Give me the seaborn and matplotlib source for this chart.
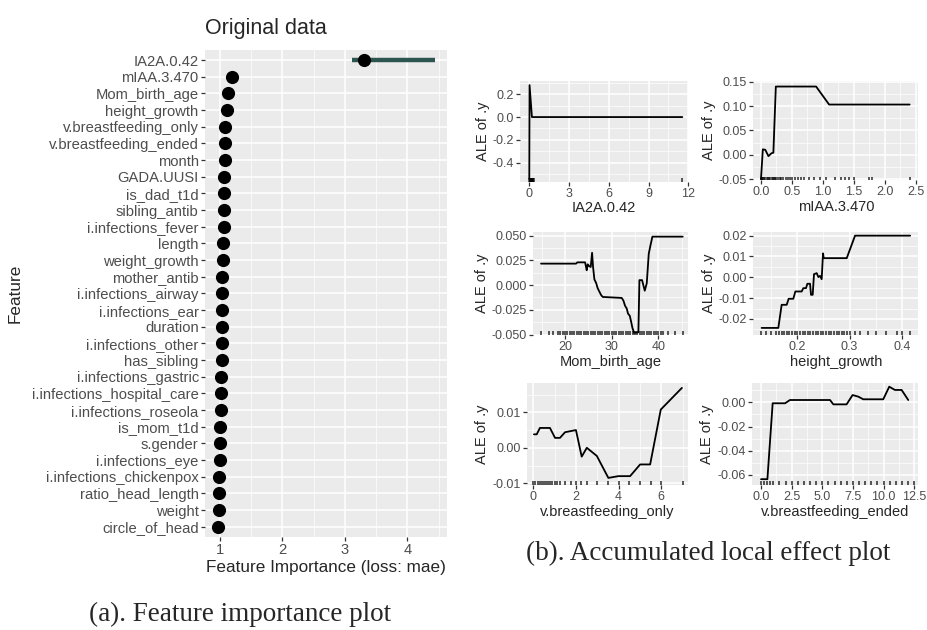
"""
Feature importance (left) and accumulated local effect panels (right).
"""

import matplotlib
matplotlib.use("Agg")
import matplotlib.pyplot as plt
import seaborn as sns
from matplotlib.ticker import (AutoMinorLocator, FormatStrFormatter,
                               MultipleLocator, NullLocator)

# ---- feature importance data (top to bottom) ----
features = [
    "IA2A.0.42", "mIAA.3.470", "Mom_birth_age", "height_growth",
    "v.breastfeeding_only", "v.breastfeeding_ended", "month", "GADA.UUSI",
    "is_dad_t1d", "sibling_antib", "i.infections_fever", "length",
    "weight_growth", "mother_antib", "i.infections_airway", "i.infections_ear",
    "duration", "i.infections_other", "has_sibling", "i.infections_gastric",
    "i.infections_hospital_care", "i.infections_roseola", "is_mom_t1d",
    "s.gender", "i.infections_eye", "i.infections_chickenpox",
    "ratio_head_length", "weight", "circle_of_head",
]
importance = [3.30, 1.20, 1.13, 1.12, 1.085, 1.08, 1.075, 1.07, 1.07, 1.065,
              1.06, 1.055, 1.05, 1.04, 1.04, 1.035, 1.03, 1.03, 1.025, 1.02,
              1.015, 1.015, 1.005, 1.005, 1.0, 0.99, 0.985, 0.98, 0.975]
imp_low = [3.11, 1.19, 1.12, 1.11, 1.08, 1.07, 1.07, 1.06, 1.06, 1.06,
           1.05, 1.05, 1.04, 1.03, 1.03, 1.03, 1.02, 1.02, 1.02, 1.01,
           1.01, 1.01, 1.0, 1.0, 0.99, 0.985, 0.98, 0.975, 0.97]
imp_high = [4.45, 1.21, 1.14, 1.13, 1.09, 1.09, 1.08, 1.08, 1.08, 1.07,
            1.07, 1.06, 1.06, 1.05, 1.05, 1.04, 1.04, 1.04, 1.03, 1.03,
            1.02, 1.02, 1.01, 1.01, 1.005, 0.995, 1.04, 0.985, 0.98]

# ---- ALE curves ----
ia2a_x = [0.0, 0.02, 0.2, 11.55]
ia2a_y = [-0.54, 0.28, 0.0, 0.0]
ia2a_rug = [0.0, 0.02, 0.04, 0.06, 0.08, 0.1, 0.12, 0.15, 0.18, 0.22, 0.26,
            0.3, 0.35, 11.55]

miaa_x = [0.0, 0.03, 0.07, 0.12, 0.17, 0.2, 0.24, 0.89, 1.10, 2.40]
miaa_y = [-0.05, 0.011, 0.010, -0.003, 0.003, 0.004, 0.14, 0.14, 0.103, 0.103]
miaa_rug = [0.0, 0.01, 0.02, 0.03, 0.05, 0.07, 0.09, 0.11, 0.13, 0.15, 0.17,
            0.19, 0.21, 0.23, 0.25, 0.27, 0.3, 0.33, 0.36, 0.4, 0.43, 0.47,
            0.5, 0.55, 0.6, 0.65, 0.7, 0.78, 0.85, 0.95, 1.05, 1.2, 1.3,
            1.35, 1.42, 1.5, 1.75, 1.8, 2.4]

mom_x = [14.86, 22.36, 22.64, 24.29, 24.5, 24.64, 24.86, 25.21, 25.5, 25.79,
         26.0, 26.29, 26.64, 27.0, 27.36, 27.71, 28.07, 32.14, 32.5, 32.86,
         33.21, 33.5, 33.86, 34.14, 34.43, 34.79, 35.71, 35.93, 36.5, 37.07,
         37.5, 37.93, 38.29, 38.71, 45.21]
mom_y = [0.0217, 0.0217, 0.023, 0.023, 0.0183, 0.015, 0.021, 0.019, 0.0183,
         0.0327, 0.0183, 0.0057, 0.0023, -0.0033, -0.0067, -0.01, -0.012,
         -0.013, -0.0157, -0.021, -0.0237, -0.029, -0.031, -0.0367, -0.0433,
         -0.0483, -0.0477, 0.005, 0.005, -0.0057, 0.0017, 0.0317, 0.04,
         0.049, 0.049]
mom_rug = [14.9, 16.5, 17.5, 18.5, 19.0, 19.5, 20.0, 20.5, 21.0, 21.5, 22.0,
           22.5, 23.0, 23.5, 24.0, 24.5, 25.0, 25.5, 26.0, 26.5, 27.0, 27.5,
           28.0, 28.5, 29.0, 29.5, 30.0, 30.5, 31.0, 31.5, 32.0, 32.5, 33.0,
           33.5, 34.0, 34.5, 35.0, 35.5, 36.0, 36.5, 37.0, 37.5, 38.0, 38.5,
           39.0, 39.5, 40.0, 40.5, 41.0, 42.0, 43.5, 45.2]

hg_x = [0.1316, 0.1636, 0.170, 0.1796, 0.1834, 0.1923, 0.1962, 0.2083, 0.2115,
        0.2166, 0.2192, 0.2243, 0.2262, 0.2294, 0.2319, 0.2371, 0.2403,
        0.2435, 0.2466, 0.2492, 0.2505, 0.2946, 0.3105, 0.416]
hg_y = [-0.0243, -0.0243, -0.0132, -0.0132, -0.0103, -0.0103, -0.0068,
        -0.0068, -0.0052, -0.0052, -0.0031, -0.0031, -0.0084, -0.0084,
        0.0015, 0.002, 0.0001, 0.0007, -0.0009, 0.0115, 0.0092, 0.0092,
        0.02, 0.02]
hg_rug = [0.13, 0.14, 0.15, 0.16, 0.165, 0.17, 0.175, 0.18, 0.185, 0.19,
          0.195, 0.2, 0.205, 0.21, 0.215, 0.22, 0.225, 0.23, 0.235, 0.24,
          0.245, 0.25, 0.255, 0.26, 0.265, 0.27, 0.275, 0.28, 0.285, 0.29,
          0.295, 0.30, 0.31, 0.32, 0.335, 0.35, 0.37, 0.39, 0.40, 0.415]

bfo_x = [0.03, 0.16, 0.31, 0.78, 1.02, 1.25, 1.49, 2.0, 2.27, 2.51, 2.98,
         3.52, 3.99, 4.54, 5.01, 5.48, 5.98, 6.97]
bfo_y = [0.0038, 0.0038, 0.0056, 0.0056, 0.0028, 0.0028, 0.0044, 0.005,
         -0.0025, 0.0, -0.0023, -0.0085, -0.008, -0.008, -0.0047, -0.0047,
         0.0108, 0.0169]
bfo_rug = [0.0, 0.1, 0.2, 0.3, 0.4, 0.5, 0.6, 0.7, 0.8, 0.9, 1.0, 1.1, 1.25,
           1.5, 1.75, 2.0, 2.25, 2.5, 3.0, 3.5, 4.0, 4.5, 5.0, 5.5, 6.0, 7.0]

bfe_x = [0.0, 0.52, 0.95, 1.96, 2.36, 5.63, 5.9, 6.98, 7.47, 7.93, 8.34,
         9.97, 10.46, 10.92, 11.47, 12.01]
bfe_y = [-0.0635, -0.0635, -0.0008, -0.0008, 0.0019, 0.0019, -0.0017,
         -0.0017, 0.006, 0.0047, 0.0025, 0.0025, 0.0129, 0.0102, 0.0102,
         0.0019]
bfe_rug = [0.0, 0.25, 0.5, 0.75, 1.0, 1.5, 2.0, 2.5, 3.0, 3.5, 4.0, 4.5, 5.0,
           5.5, 6.0, 6.5, 7.0, 7.5, 8.0, 8.5, 9.0, 9.5, 10.0, 10.5, 11.0,
           11.5, 12.0, 12.5]

W, H = 927, 630
PANEL_BG = "#EBEBEB"
TICK_TXT = "#4D4D4D"
BAR_COLOR = "#2d5550"

sns.set_theme(style="darkgrid")
plt.rcParams["font.family"] = ["Liberation Sans", "DejaVu Sans"]
plt.rcParams["axes.unicode_minus"] = False


def box(left, top, right, bottom):
    """Pixel box -> figure fraction rect."""
    return [left / W, 1 - bottom / H, (right - left) / W, (bottom - top) / H]


def ggplot_look(ax, labelsize):
    ax.set_facecolor(PANEL_BG)
    for s in ax.spines.values():
        s.set_visible(False)
    ax.grid(which="major", color="white", linewidth=1.1)
    ax.grid(which="minor", color="white", linewidth=0.5)
    ax.tick_params(which="major", bottom=True, left=True, length=3, width=0.9,
                   color="#333333", labelsize=labelsize, labelcolor=TICK_TXT, pad=1.5)
    ax.tick_params(which="minor", bottom=False, left=False, length=0)
    ax.set_axisbelow(True)


fig = plt.figure(figsize=(W / 100, H / 100), dpi=100)

# ---- (a) feature importance ----
ax = fig.add_axes(box(205, 50, 446.7, 536.7))
ax.hlines(features, imp_low, imp_high, color=BAR_COLOR, linewidth=3.2, zorder=2)
sns.scatterplot(x=importance, y=features, ax=ax, s=90, color="black",
                edgecolor="black", linewidth=0, zorder=3)
ax.set_xlim(0.76, 4.63)
ax.set_ylim(len(features) - 0.4, -0.6)
ax.xaxis.set_major_locator(MultipleLocator(1))
ax.xaxis.set_minor_locator(AutoMinorLocator(2))
ax.yaxis.set_minor_locator(NullLocator())
ax.xaxis.set_major_formatter(FormatStrFormatter("%d"))
ggplot_look(ax, 10.6)
ax.set_xlabel("Feature Importance (loss: mae)", fontsize=12.3, labelpad=2)
ax.set_ylabel("Feature", fontsize=12.3)
ax.yaxis.set_label_coords(-0.755, 0.5)
fig.text(205 / W, 1 - 34 / H, "Original data", fontsize=15.5, ha="left", va="baseline")

# ---- (b) ALE panels ----
ale_panels = [
    (box(520, 80.7, 688.3, 181.7), ia2a_x, ia2a_y, ia2a_rug, "IA2A.0.42",
     (-0.7, 12.0), (-0.567, 0.319), 3, 0.2, "%d", "%.1f"),
    (box(753.3, 80.7, 918.3, 180), miaa_x, miaa_y, miaa_rug, "mIAA.3.470",
     (-0.124, 2.54), (-0.052, 0.152), 0.5, 0.05, "%.1f", "%.2f"),
    (box(533.3, 231.7, 688.3, 335), mom_x, mom_y, mom_rug, "Mom_birth_age",
     (13.2, 46.4), (-0.0505, 0.054), 10, 0.025, "%d", "%.3f"),
    (box(753.3, 231.7, 918.3, 335), hg_x, hg_y, hg_rug, "height_growth",
     (0.1157, 0.4316), (-0.0277, 0.0219), 0.1, 0.01, "%.1f", "%.2f"),
    (box(526.7, 383.3, 688.3, 485), bfo_x, bfo_y, bfo_rug, "v.breastfeeding_only",
     (-0.31, 7.27), (-0.0105, 0.0182), 2, 0.01, "%d", "%.2f"),
    (box(751.7, 383.3, 918.3, 485), bfe_x, bfe_y, bfe_rug, "v.breastfeeding_ended",
     (-0.76, 12.83), (-0.0683, 0.0157), 2.5, 0.02, "%.1f", "%.2f"),
]

for rect, xs, ys, rug, name, xlim, ylim, xstep, ystep, xfmt, yfmt in ale_panels:
    pax = fig.add_axes(rect)
    sns.lineplot(x=xs, y=ys, ax=pax, color="black", linewidth=1.3,
                 sort=False, estimator=None)
    sns.rugplot(x=rug, ax=pax, height=0.035, color="black", linewidth=1.3, alpha=0.7)
    pax.set_xlim(*xlim)
    pax.set_ylim(*ylim)
    pax.xaxis.set_major_locator(MultipleLocator(xstep))
    pax.yaxis.set_major_locator(MultipleLocator(ystep))
    pax.xaxis.set_minor_locator(AutoMinorLocator(2))
    pax.yaxis.set_minor_locator(AutoMinorLocator(2))
    pax.xaxis.set_major_formatter(FormatStrFormatter(xfmt))
    pax.yaxis.set_major_formatter(FormatStrFormatter(yfmt))
    ggplot_look(pax, 9)
    pax.set_xlabel(name, fontsize=10.5, labelpad=1)
    pax.set_ylabel("ALE of .y", fontsize=10.5, labelpad=2)

# ---- captions ----
fig.text(708 / W, 1 - 553 / H, "(b). Accumulated local effect plot",
         fontsize=19.5, family="Liberation Serif", ha="center", va="center")
fig.text(240 / W, 1 - 614 / H, "(a). Feature importance plot",
         fontsize=19.5, family="Liberation Serif", ha="center", va="center")

fig.savefig("out.png", dpi=100, facecolor="white")
plt.close(fig)
